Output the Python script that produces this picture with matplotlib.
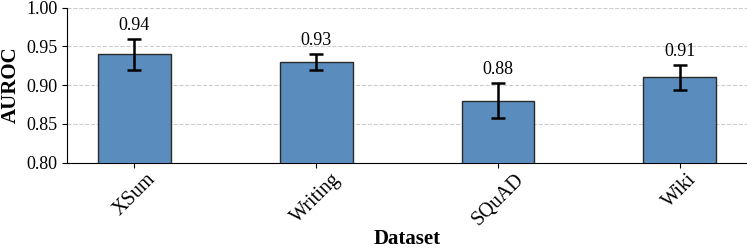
import numpy as np
import matplotlib
matplotlib.use("Agg")
import matplotlib.pyplot as plt

plt.rcParams['font.family'] = ['Liberation Serif', 'DejaVu Serif']

datasets = ["XSum", "Writing", "SQuAD", "Wiki"]
auroc = [0.94, 0.93, 0.88, 0.91]
errors = [0.020, 0.010, 0.023, 0.016]

fig, ax = plt.subplots(figsize=(7.47, 2.5), dpi=100)
x = np.arange(len(datasets))
ax.bar(x, auroc, width=0.4, yerr=errors, color="#5a8dbd", edgecolor="#2a2a2a",
       linewidth=1.0, capsize=5, error_kw=dict(elinewidth=1.8, capthick=1.8, ecolor="black"),
       zorder=3)
for xi, v, e in zip(x, auroc, errors):
    ax.text(xi, v + e + 0.006, f"{v:.2f}", ha="center", va="bottom", fontsize=13)

ax.set_ylim(0.80, 1.00)
ax.set_yticks([0.80, 0.85, 0.90, 0.95, 1.00])
ax.set_xticks(x)
ax.set_xticklabels(datasets, rotation=45, fontsize=14.5)
ax.tick_params(axis='y', labelsize=13)
ax.tick_params(axis='x', pad=2)
ax.set_ylabel("AUROC", fontsize=15, fontweight="bold")
ax.set_xlabel("Dataset", fontsize=15, fontweight="bold", labelpad=0)
ax.grid(axis='y', linestyle='--', color='#cccccc', linewidth=0.8, zorder=0)
ax.spines['top'].set_visible(False)
ax.spines['right'].set_visible(False)

fig.subplots_adjust(left=0.09, right=1.0, top=0.97, bottom=0.35)
plt.savefig("out.png", dpi=100)
